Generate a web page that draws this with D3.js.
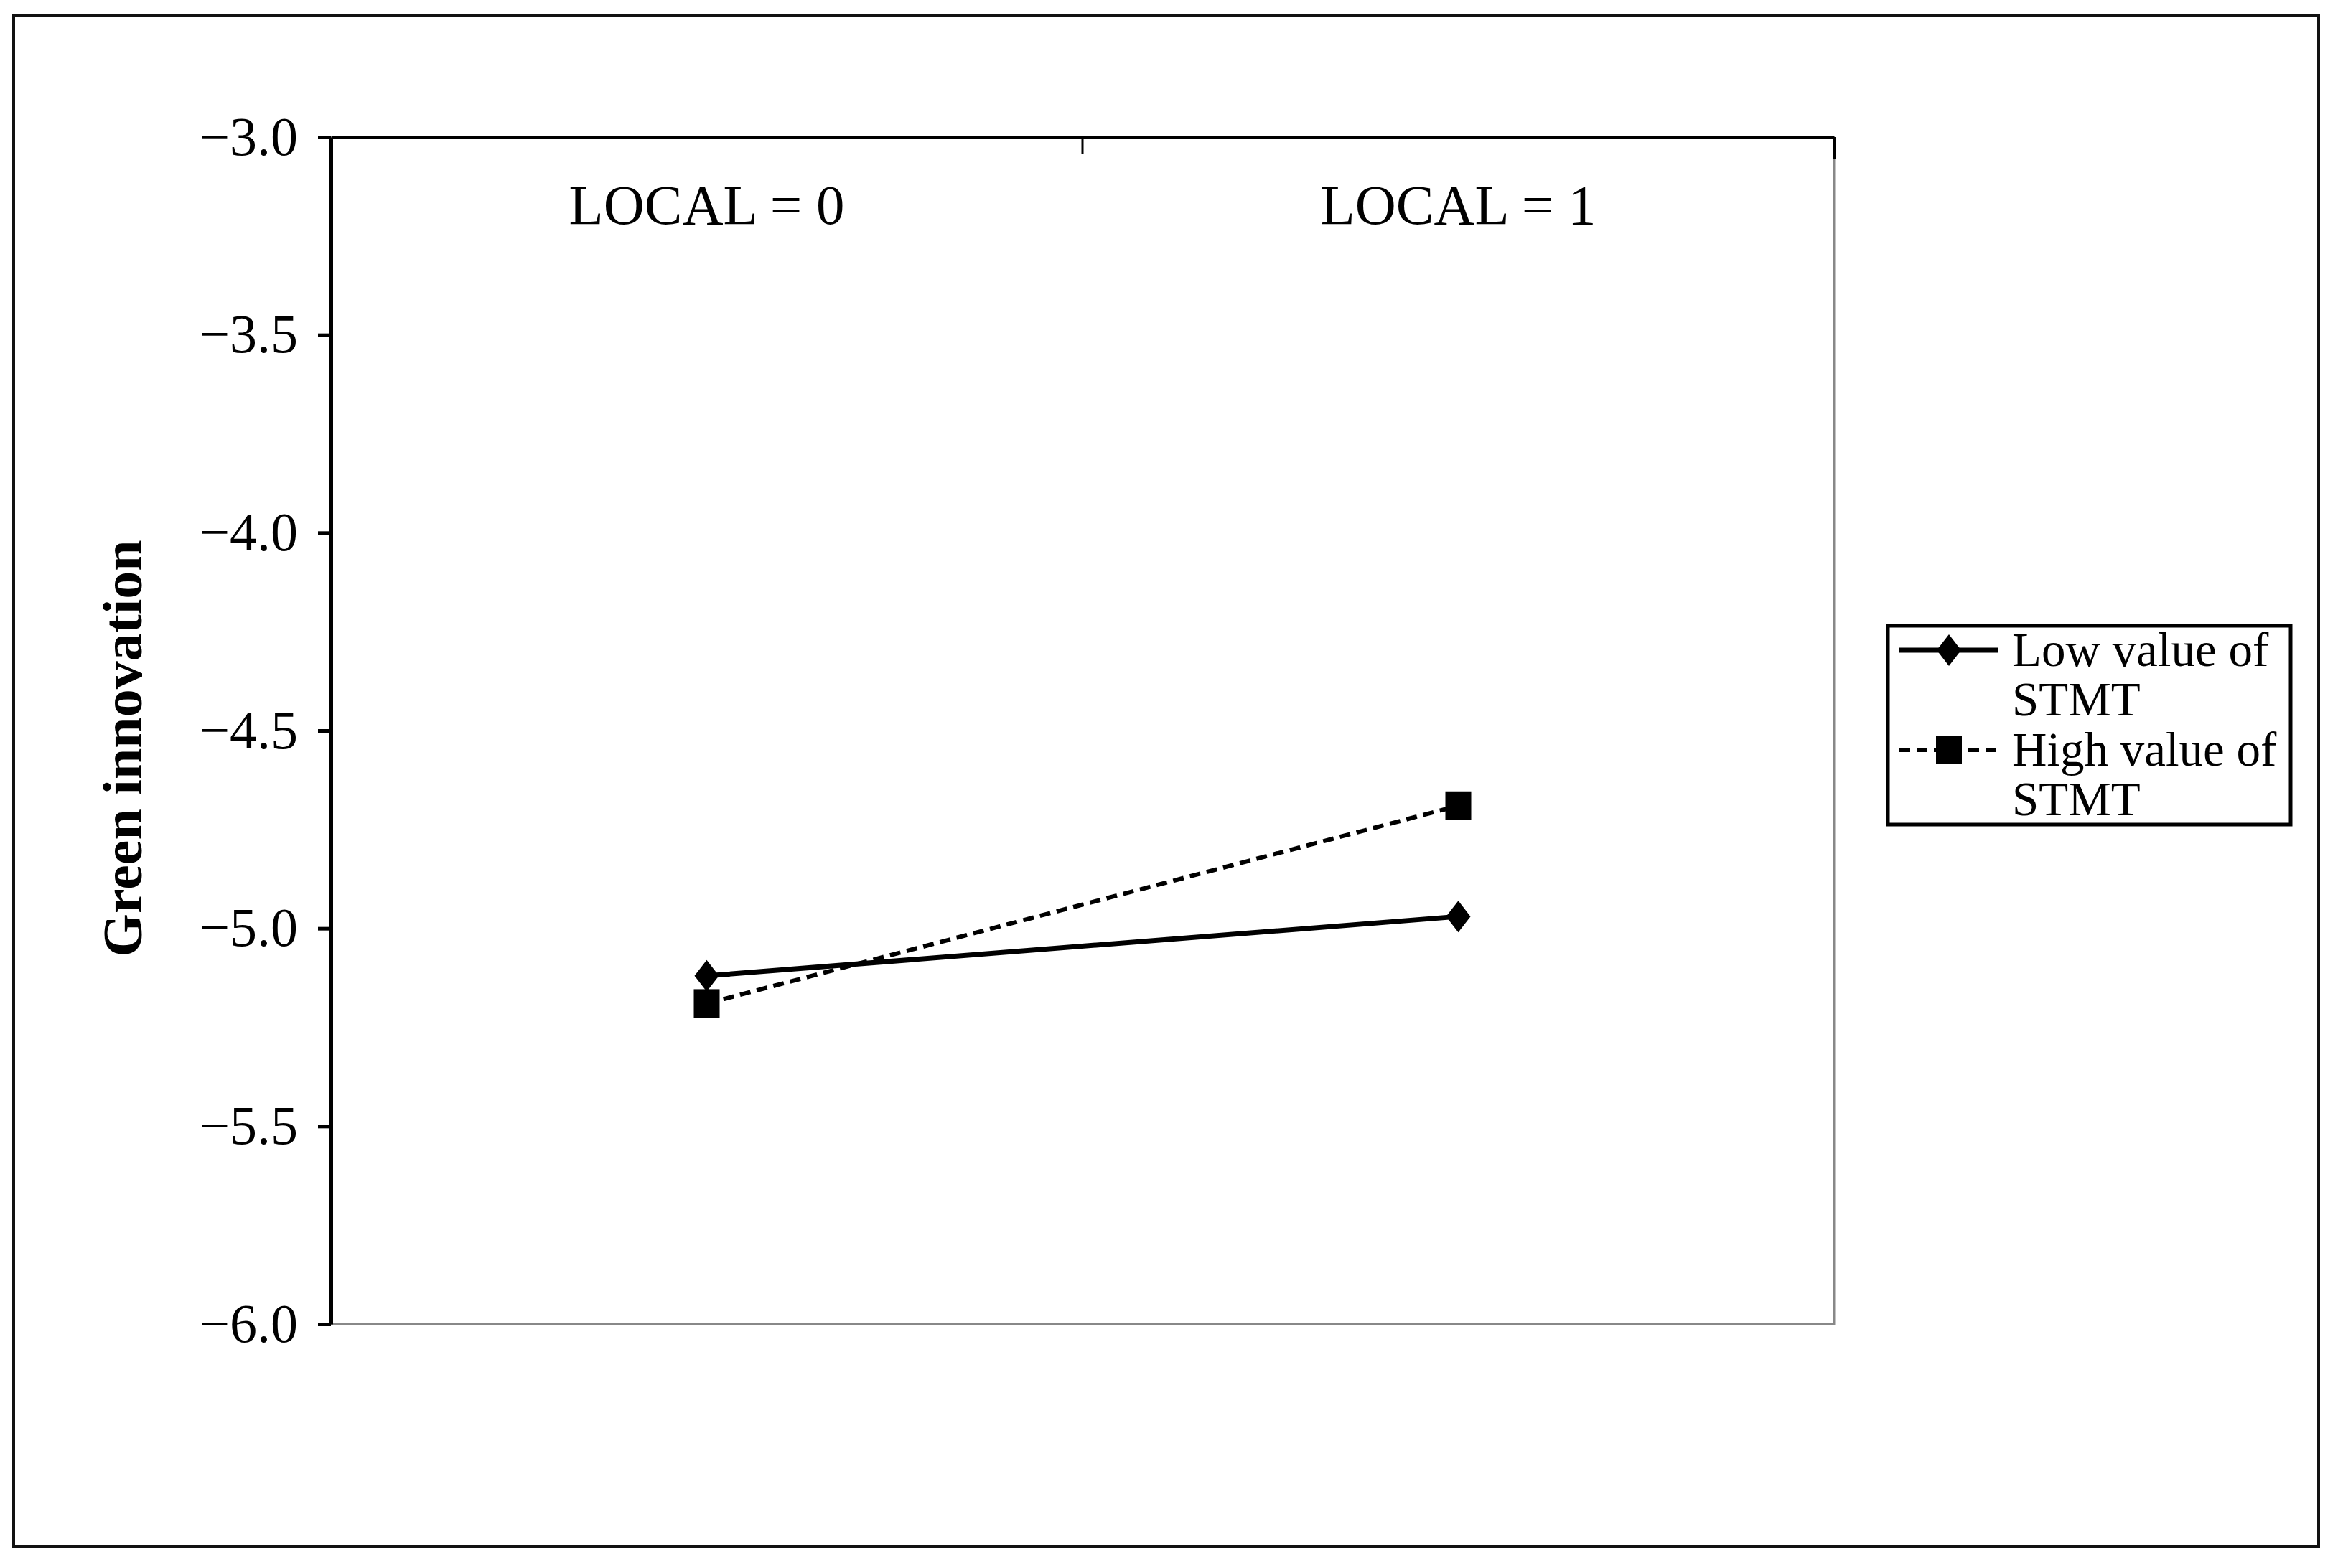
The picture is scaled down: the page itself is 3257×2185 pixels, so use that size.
<!DOCTYPE html>
<html>
<head>
<meta charset="utf-8">
<script src="https://cdn.jsdelivr.net/npm/d3@7"></script>
<style>
  body { margin: 0; background: #fff; }
  text { font-family: "Liberation Serif", "Times New Roman", serif; fill: #000; }
</style>
</head>
<body>
<div id="chart"></div>
<script>
// data
var categories = ["LOCAL = 0", "LOCAL = 1"];
var low_values = [-5.12, -4.97];
var high_values = [-5.19, -4.69];
var y_ticks = [-3.0, -3.5, -4.0, -4.5, -5.0, -5.5, -6.0];
var legend_labels = [["Low value of", "STMT"], ["High value of", "STMT"]];

var width = 3257, height = 2185;
var plot = { left: 461, top: 191, right: 2555, bottom: 1845 };

var svg = d3.select("#chart").append("svg")
    .attr("width", width)
    .attr("height", height);

// outer frame
svg.append("rect")
    .attr("x", 19).attr("y", 21)
    .attr("width", 3230 - 19).attr("height", 2155 - 21)
    .attr("fill", "none")
    .attr("stroke", "#111")
    .attr("stroke-width", 4);

var x = d3.scaleBand()
    .domain(categories)
    .range([plot.left, plot.right]);

var y = d3.scaleLinear()
    .domain([-6, -3])
    .range([plot.bottom, plot.top]);

// right + bottom edges are grey
svg.append("path")
    .attr("d", "M" + plot.right + "," + plot.top + "V" + plot.bottom + "H" + plot.left)
    .attr("fill", "none")
    .attr("stroke", "#888")
    .attr("stroke-width", 3);

// little black stub at top right corner
svg.append("line")
    .attr("x1", plot.right).attr("x2", plot.right)
    .attr("y1", plot.top).attr("y2", plot.top + 30)
    .attr("stroke", "#000")
    .attr("stroke-width", 4);

// top axis with the boundary tick between the two categories
var top_axis = svg.append("g")
    .attr("transform", "translate(0," + plot.top + ")")
    .call(d3.axisBottom(x)
        .tickValues([])
        .tickSizeOuter(0));
top_axis.select(".domain").attr("stroke", "#000").attr("stroke-width", 5);
top_axis.append("line")
    .attr("x1", x(categories[1])).attr("x2", x(categories[1]))
    .attr("y1", 0).attr("y2", 24)
    .attr("stroke", "#000")
    .attr("stroke-width", 3);

// category labels sit under the top axis
svg.selectAll(".cat-label")
    .data(categories)
    .enter().append("text")
    .attr("class", "cat-label")
    .attr("x", d => x(d) + x.bandwidth() / 2)
    .attr("y", 312)
    .attr("text-anchor", "middle")
    .attr("font-size", 79)
    .text(d => d);

// y axis
var y_axis = svg.append("g")
    .attr("transform", "translate(" + plot.left + ",0)")
    .call(d3.axisLeft(y)
        .tickValues(y_ticks)
        .tickFormat(d3.format(".1f"))
        .tickSize(18)
        .tickSizeOuter(0)
        .tickPadding(28));
y_axis.select(".domain").attr("stroke", "#000").attr("stroke-width", 5);
y_axis.selectAll(".tick line").attr("stroke", "#000").attr("stroke-width", 5);
y_axis.selectAll(".tick text")
    .attr("font-size", 76)
    .attr("font-family", "Liberation Serif, Times New Roman, serif")
    .attr("fill", "#000");

svg.append("text")
    .attr("transform", "translate(197,1043) rotate(-90)")
    .attr("text-anchor", "middle")
    .attr("font-size", 78)
    .attr("font-weight", "bold")
    .text("Green innovation");

// lines
var cx = d => x(d) + x.bandwidth() / 2;
var line = d3.line()
    .x((d, i) => cx(categories[i]))
    .y(d => y(d));

svg.append("path")
    .datum(low_values)
    .attr("d", line)
    .attr("fill", "none")
    .attr("stroke", "#000")
    .attr("stroke-width", 7);

svg.append("path")
    .datum(high_values)
    .attr("d", line)
    .attr("fill", "none")
    .attr("stroke", "#000")
    .attr("stroke-width", 6)
    .attr("stroke-dasharray", "15,9");

function diamond(px, py) {
    return "M" + px + "," + (py - 22) + "L" + (px + 17) + "," + py +
        "L" + px + "," + (py + 22) + "L" + (px - 17) + "," + py + "Z";
}

svg.selectAll(".low-pt")
    .data(low_values)
    .enter().append("path")
    .attr("class", "low-pt")
    .attr("d", (d, i) => diamond(cx(categories[i]), y(d)))
    .attr("fill", "#000");

svg.selectAll(".high-pt")
    .data(high_values)
    .enter().append("rect")
    .attr("class", "high-pt")
    .attr("x", (d, i) => cx(categories[i]) - 18)
    .attr("y", d => y(d) - 20)
    .attr("width", 36)
    .attr("height", 40)
    .attr("fill", "#000");

// legend
var legend = svg.append("g");
legend.append("rect")
    .attr("x", 2630).attr("y", 872)
    .attr("width", 3191 - 2630).attr("height", 1149 - 872)
    .attr("fill", "#fff")
    .attr("stroke", "#000")
    .attr("stroke-width", 5);

var legend_rows = [906, 1045];
legend.append("line")
    .attr("x1", 2646).attr("x2", 2783)
    .attr("y1", legend_rows[0]).attr("y2", legend_rows[0])
    .attr("stroke", "#000").attr("stroke-width", 7);
legend.append("path")
    .attr("d", diamond(2715, legend_rows[0]))
    .attr("fill", "#000");
legend.append("line")
    .attr("x1", 2646).attr("x2", 2783)
    .attr("y1", legend_rows[1]).attr("y2", legend_rows[1])
    .attr("stroke", "#000").attr("stroke-width", 6)
    .attr("stroke-dasharray", "15,9");
legend.append("rect")
    .attr("x", 2697).attr("y", legend_rows[1] - 20)
    .attr("width", 36).attr("height", 40)
    .attr("fill", "#000");

legend_labels.forEach(function (lines, i) {
    lines.forEach(function (s, j) {
        legend.append("text")
            .attr("x", 2803)
            .attr("y", legend_rows[i] + 22 + j * 69)
            .attr("font-size", 67)
            .text(s);
    });
});
</script>
</body>
</html>
